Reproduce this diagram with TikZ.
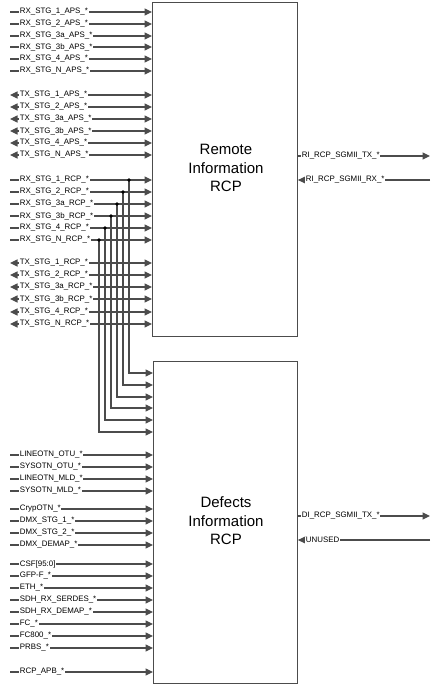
\documentclass[tikz,border=0pt]{standalone}
\usepackage{fontspec}
\setmainfont{Liberation Sans}
\usetikzlibrary{arrows.meta}
\tikzset{
  wire/.style={draw=black!70, line width=1.1pt},
  tipR/.style={-{Triangle[length=7.5pt,width=7pt]}},
  tipB/.style={{Triangle[length=7.5pt,width=7pt]}-{Triangle[length=7.5pt,width=7pt]}},
  lbl/.style={font=\fontsize{7.9}{8}\selectfont, fill=white, inner sep=0.7pt, anchor=west},
  blk/.style={draw=black!70, line width=0.9pt, fill=white, anchor=north west, inner sep=0pt},
  big/.style={font=\fontsize{15}{18.5}\selectfont, align=center},
  jdot/.style={circle, fill=black, inner sep=0pt, minimum size=3.6pt}
}
\begin{document}
\begin{tikzpicture}[x=1pt,y=-1pt]
\useasboundingbox (0,0) rectangle (439,686);
% blocks
\node[blk, minimum width=145pt, minimum height=334pt] (top) at (152,2) {};
\node[blk, minimum width=144pt, minimum height=322pt] (bot) at (153,361) {};
\node[big] (toptxt) at (226,168) {Remote\\Information\\RCP};
\node[big] (bottxt) at (226,521) {Defects\\Information\\RCP};

% RX APS inputs
\foreach \y/\t [count=\i] in {12/RX\_STG\_1\_APS\_*,24/RX\_STG\_2\_APS\_*,36/RX\_STG\_3a\_APS\_*,47/RX\_STG\_3b\_APS\_*,59/RX\_STG\_4\_APS\_*,71/RX\_STG\_N\_APS\_*}{
  \coordinate (ra\i) at (10,\y);
  \draw[wire,tipR] (ra\i) -- (ra\i -| top.west);
  \node[lbl] (lra\i) at (19,\y) {\t};
}
% TX APS bidirectional
\foreach \y/\t [count=\i] in {95/TX\_STG\_1\_APS\_*,107/TX\_STG\_2\_APS\_*,119/TX\_STG\_3a\_APS\_*,131/TX\_STG\_3b\_APS\_*,143/TX\_STG\_4\_APS\_*,155/TX\_STG\_N\_APS\_*}{
  \coordinate (ta\i) at (10,\y);
  \draw[wire,tipB] (ta\i) -- (ta\i -| top.west);
  \node[lbl] (lta\i) at (19,\y) {\t};
}
% RX RCP inputs with taps to lower block
\foreach \y/\t/\x/\yb [count=\i] in {180/RX\_STG\_1\_RCP\_*/129/373,192/RX\_STG\_2\_RCP\_*/123/385,204/RX\_STG\_3a\_RCP\_*/117/397,216/RX\_STG\_3b\_RCP\_*/111/408,228/RX\_STG\_4\_RCP\_*/105/420,240/RX\_STG\_N\_RCP\_*/99/432}{
  \coordinate (rr\i) at (10,\y);
  \coordinate (j\i) at (\x,\y);
  \coordinate (k\i) at (\x,\yb);
  \draw[wire,tipR] (rr\i) -- (rr\i -| top.west);
  \draw[wire,tipR] (j\i) -- (k\i) -- (k\i -| bot.west);
  \node[jdot] (d\i) at (j\i) {};
}
\foreach \y/\t [count=\i] in {180/RX\_STG\_1\_RCP\_*,192/RX\_STG\_2\_RCP\_*,204/RX\_STG\_3a\_RCP\_*,216/RX\_STG\_3b\_RCP\_*,228/RX\_STG\_4\_RCP\_*,240/RX\_STG\_N\_RCP\_*}{
  \node[lbl] (lrr\i) at (19,\y) {\t};
}
% TX RCP bidirectional
\foreach \y/\t [count=\i] in {263/TX\_STG\_1\_RCP\_*,275/TX\_STG\_2\_RCP\_*,287/TX\_STG\_3a\_RCP\_*,299/TX\_STG\_3b\_RCP\_*,312/TX\_STG\_4\_RCP\_*,324/TX\_STG\_N\_RCP\_*}{
  \coordinate (tr\i) at (10,\y);
  \draw[wire,tipB] (tr\i) -- (tr\i -| top.west);
  \node[lbl] (ltr\i) at (19,\y) {\t};
}
% lower block inputs
\foreach \y/\t [count=\i] in {455/LINEOTN\_OTU\_*,467/SYSOTN\_OTU\_*,479/LINEOTN\_MLD\_*,491/SYSOTN\_MLD\_*,509/CrypOTN\_*,521/DMX\_STG\_1\_*,533/DMX\_STG\_2\_*,545/DMX\_DEMAP\_*,564/CSF[95:0],576/GFP-F\_*,588/ETH\_*,600/SDH\_RX\_SERDES\_*,612/SDH\_RX\_DEMAP\_*,624/FC\_*,636/FC800\_*,648/PRBS\_*,672/RCP\_APB\_*}{
  \coordinate (bi\i) at (10,\y);
  \draw[wire,tipR] (bi\i) -- (bi\i -| bot.west);
  \node[lbl] (lbi\i) at (19,\y) {\t};
}
% right side
\coordinate (o1) at (430,156);
\coordinate (o2) at (430,180);
\coordinate (o3) at (430,516);
\coordinate (o4) at (430,540);
\draw[wire,tipR] (o1 -| top.east) -- (o1);
\node[lbl] (lo1) at (301,156) {RI\_RCP\_SGMII\_TX\_*};
\draw[wire,tipR] (o2) -- (o2 -| top.east);
\node[lbl] (lo2) at (305,180) {RI\_RCP\_SGMII\_RX\_*};
\draw[wire,tipR] (o3 -| bot.east) -- (o3);
\node[lbl] (lo3) at (301,516) {DI\_RCP\_SGMII\_TX\_*};
\draw[wire,tipR] (o4) -- (o4 -| bot.east);
\node[lbl] (lo4) at (305,540) {UNUSED};
\end{tikzpicture}
\end{document}
